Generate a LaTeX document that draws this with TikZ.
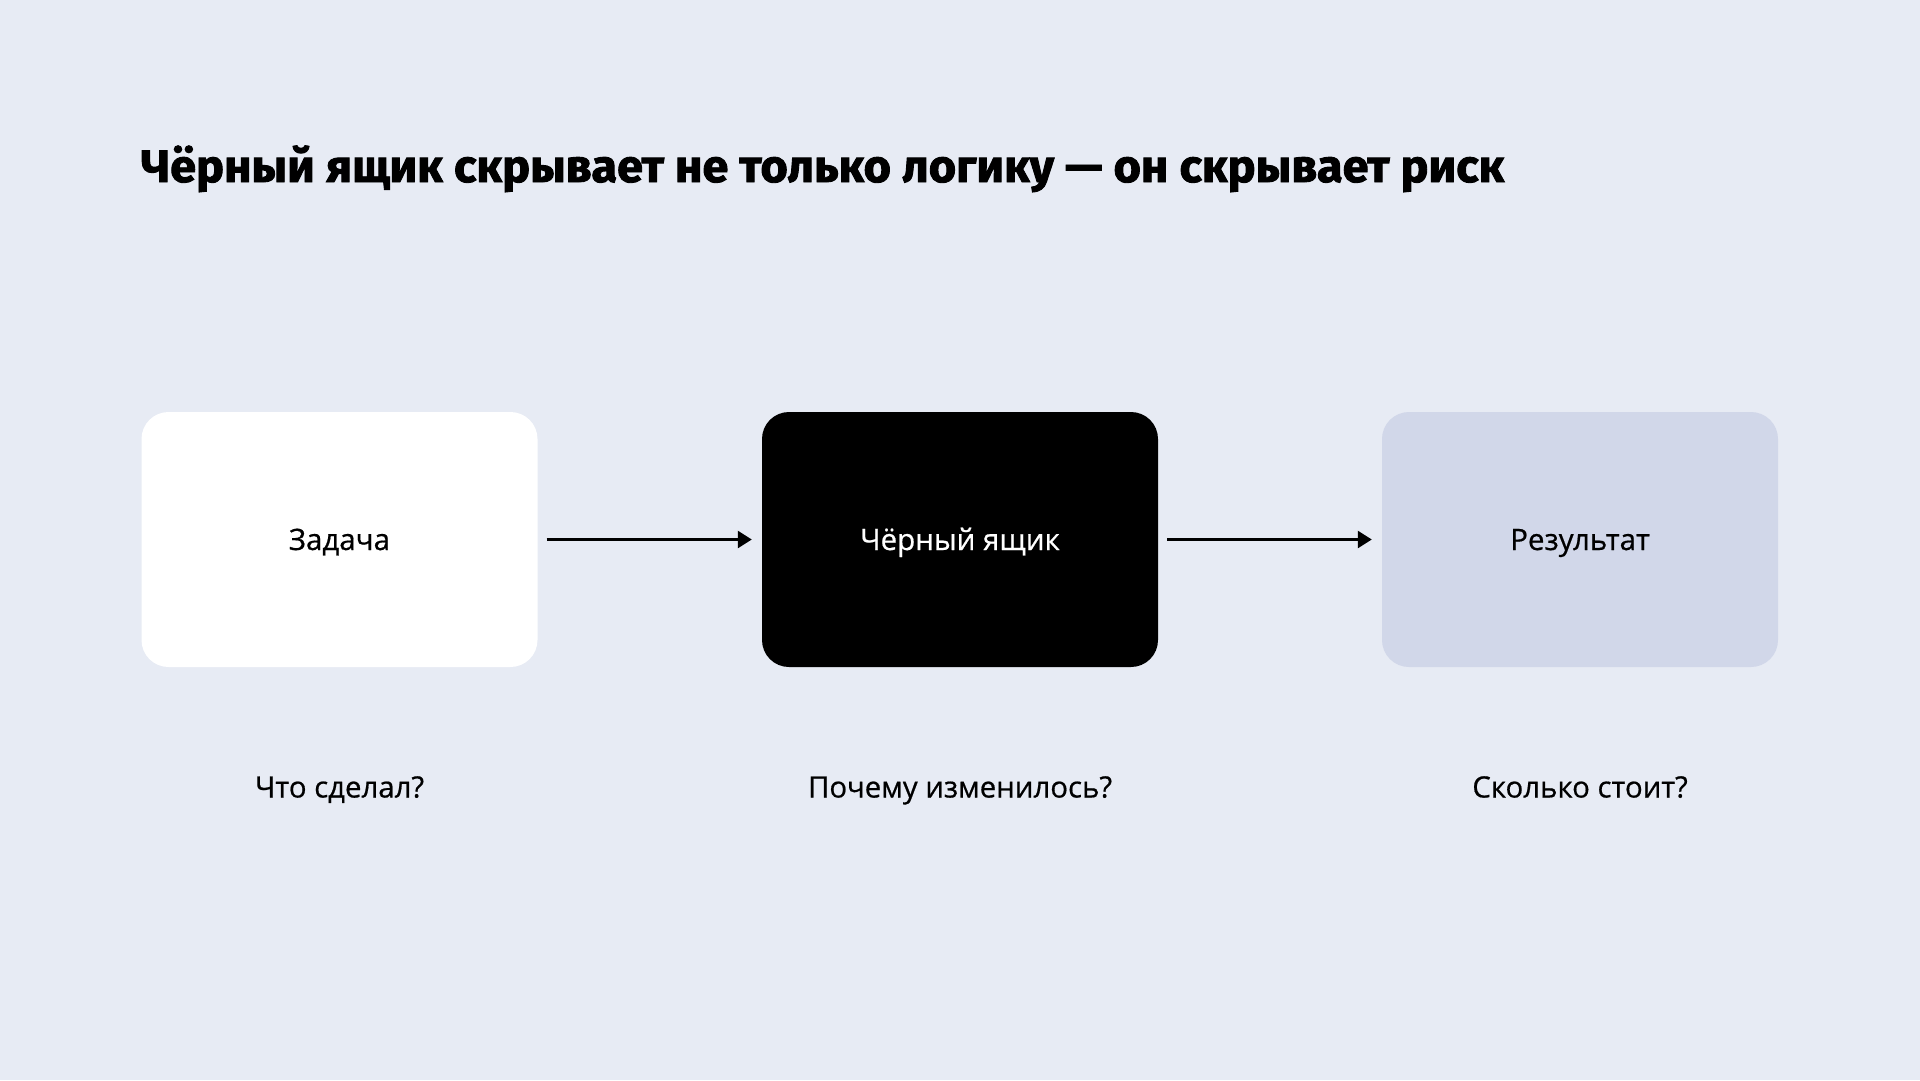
\documentclass[tikz,border=0pt]{standalone}
\usepackage{fontspec}
\setmainfont{Open Sans}[FakeBold=0.6]
\newfontfamily\titlefont{Fira Sans}[BoldFeatures={FakeBold=2,FakeStretch=1.03}]
\usetikzlibrary{arrows.meta}
\definecolor{bg}{HTML}{E7EBF4}
\definecolor{boxgray}{HTML}{D1D7E9}
\tikzset{
  card/.style={rectangle, rounded corners=27pt, minimum width=396pt, minimum height=255pt,
    inner sep=0pt, font=\fontsize{29.5}{35}\selectfont, text height=21pt, text depth=0pt},
  question/.style={inner sep=0pt, font=\fontsize{29.4}{35}\selectfont, text height=21pt, text depth=0pt},
  flow/.style={line width=2.6pt, -{Triangle[length=14pt,width=17pt]}, shorten <=9pt, shorten >=10pt}
}
\begin{document}
\begin{tikzpicture}[x=1pt,y=-1pt]
  \fill[bg] (0,0) rectangle (1920,1080);
  \useasboundingbox (0,0) rectangle (1920,1080);
  \node[anchor=base west, inner sep=0pt, font=\titlefont\bfseries\fontsize{45.5}{54}\selectfont] (title) at (141,182)
    {Чёрный ящик скрывает не только логику — он скрывает риск};
  \node[card, fill=white] (task) at (339.5,539.5) {Задача};
  \node[card, fill=black, text=white] (bbox) at (960,539.5) {Чёрный ящик};
  \node[card, fill=boxgray] (result) at (1580,539.5) {Результат};
  \draw[flow] (task.east) -- (bbox.west);
  \draw[flow] (bbox.east) -- (result.west);
  \node[question] (q1) at (339.5,787) {Что сделал?};
  \node[question] (q2) at (960,787) {Почему изменилось?};
  \node[question] (q3) at (1580,787) {Сколько стоит?};
\end{tikzpicture}
\end{document}
